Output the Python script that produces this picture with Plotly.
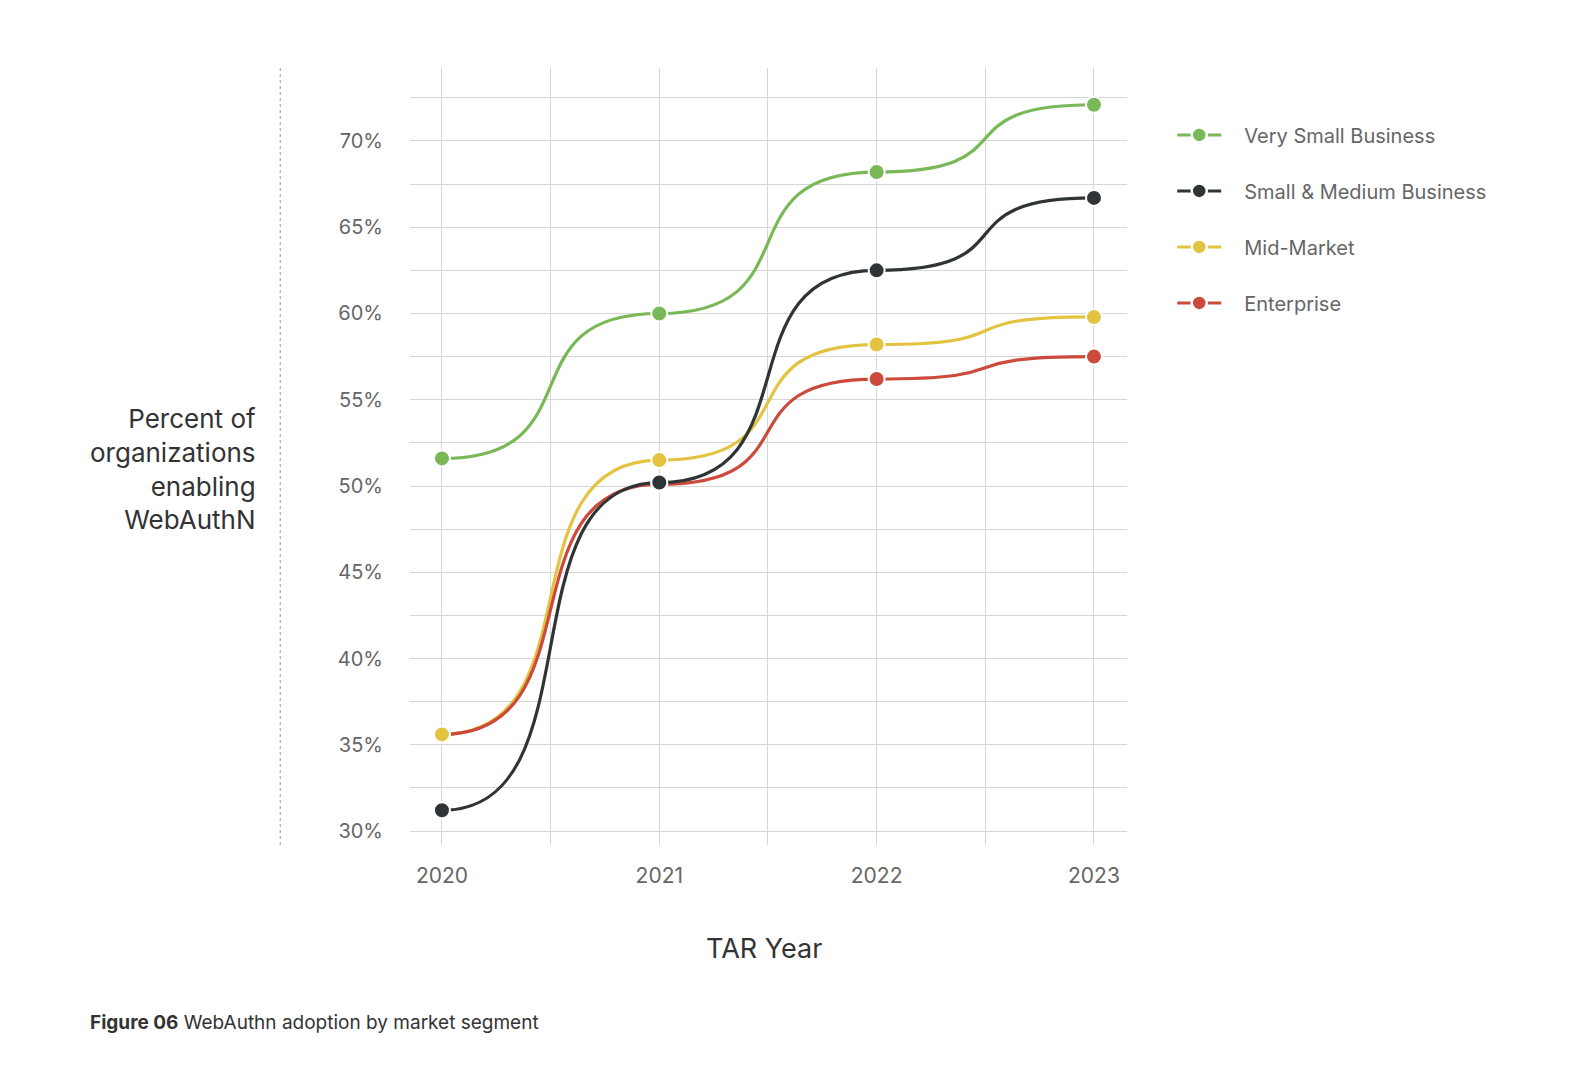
import plotly.graph_objects as go

# TAR years and share of organisations enabling WebAuthn (percent)
YEARS = [2020, 2021, 2022, 2023]

VERY_SMALL = [51.6, 60.0, 68.2, 72.1]
SMALL_MEDIUM = [31.2, 50.2, 62.5, 66.7]
MID_MARKET = [35.6, 51.5, 58.2, 59.8]
ENTERPRISE = [35.6, 50.1, 56.2, 57.5]

SEGMENTS = [
    ('Very Small Business', VERY_SMALL, '#78b856'),
    ('Small & Medium Business', SMALL_MEDIUM, '#2f3437'),
    ('Mid-Market', MID_MARKET, '#e3c340'),
    ('Enterprise', ENTERPRISE, '#cc4a3b'),
]
# order in which the curves / dots get painted (last one on top)
DRAW_ORDER = ['Mid-Market', 'Enterprise', 'Small & Medium Business', 'Very Small Business']
DOT_ORDER = ['Enterprise', 'Mid-Market', 'Small & Medium Business', 'Very Small Business']

Y_TICKS = [30, 35, 40, 45, 50, 55, 60, 65, 70]

FONT = "Inter, Roboto, sans-serif"
GRID = '#d6d6d6'
LOOKUP = {s[0]: s for s in SEGMENTS}


def step_path(xs, ys, pull=0.72):
    # flat-tangent cubic between neighbouring points, in data coords
    d = 'M {},{}'.format(xs[0], ys[0])
    for i in range(1, len(xs)):
        dx = xs[i] - xs[i - 1]
        c1 = xs[i - 1] + pull * dx
        c2 = xs[i] - pull * dx
        d += ' C {},{} {},{} {},{}'.format(c1, ys[i - 1], c2, ys[i], xs[i], ys[i])
    return d


fig = go.Figure()

for name in DRAW_ORDER:
    _, values, colour = LOOKUP[name]
    fig.add_shape(
        type='path', xref='x', yref='y', layer='between',
        path=step_path(YEARS, values),
        line=dict(color=colour, width=3.2),
    )

for name in DOT_ORDER:
    _, values, colour = LOOKUP[name]
    fig.add_trace(go.Scatter(
        x=YEARS, y=values, name=name, mode='markers', showlegend=False,
        marker=dict(size=16, color=colour, line=dict(color='white', width=2)),
    ))

# legend entries only
for i, (name, values, colour) in enumerate(SEGMENTS):
    fig.add_trace(go.Scatter(
        x=[None], y=[None], name=name, mode='lines+markers',
        line=dict(color=colour, width=3, dash='0px,18px,44px,100px'),
        marker=dict(size=15, color=colour, line=dict(color='white', width=2.5)),
        legendgroup=name, legendrank=i,
    ))

fig.update_layout(
    width=1570, height=1058,
    margin=dict(l=402, r=451, t=60, b=221),
    paper_bgcolor='white',
    plot_bgcolor='white',
    font=dict(family=FONT, size=20, color='#666666'),
    showlegend=True,
    legend=dict(
        x=1.038, y=0.939, xanchor='left', yanchor='top',
        font=dict(size=20, color='#666666'),
        itemwidth=80,
        traceorder='grouped',
        tracegroupgap=27,
        bgcolor='rgba(0,0,0,0)',
    ),
    xaxis=dict(
        range=[2019.853, 2023.152],
        tickvals=YEARS,
        showgrid=True, gridcolor=GRID, gridwidth=1,
        minor=dict(dtick=0.5, tick0=2019.5, showgrid=True, gridcolor=GRID, gridwidth=1),
        zeroline=False, showline=False,
        ticks='', ticklabelstandoff=16,
        tickfont=dict(size=21, color='#666666'),
    ),
    yaxis=dict(
        range=[29.19, 74.23],
        tickmode='array',
        tickvals=Y_TICKS,
        ticktext=['{}%'.format(v) for v in Y_TICKS],
        showgrid=True, gridcolor=GRID, gridwidth=1,
        minor=dict(dtick=2.5, tick0=0, showgrid=True, gridcolor=GRID, gridwidth=1),
        zeroline=False, showline=False,
        ticks='', ticklabelstandoff=26,
        tickfont=dict(size=20, color='#666666'),
    ),
)

# dotted divider between the axis title and the tick labels
fig.add_shape(
    type='line', xref='paper', yref='paper',
    x0=-0.181, x1=-0.181, y0=0, y1=1,
    line=dict(color='#999999', width=1, dash='dot'),
)

fig.add_annotation(
    text='Percent of<br>organizations<br>enabling<br>WebAuthN',
    xref='paper', yref='paper', x=-0.212, y=0.484,
    xanchor='right', yanchor='middle', align='right',
    showarrow=False,
    font=dict(family=FONT, size=26, color='#333333'),
)

fig.add_annotation(
    text='TAR Year',
    xref='paper', yref='paper', x=0.494, y=-0.1326,
    xanchor='center', yanchor='middle',
    showarrow=False,
    font=dict(family=FONT, size=27, color='#333333'),
)

fig.add_annotation(
    text='<b>Figure 06</b> WebAuthn adoption by market segment',
    xref='paper', yref='paper', x=-0.449, y=-0.2285,
    xanchor='left', yanchor='middle',
    showarrow=False,
    font=dict(family=FONT, size=19, color='#333333'),
)

fig.write_html("out.html")
